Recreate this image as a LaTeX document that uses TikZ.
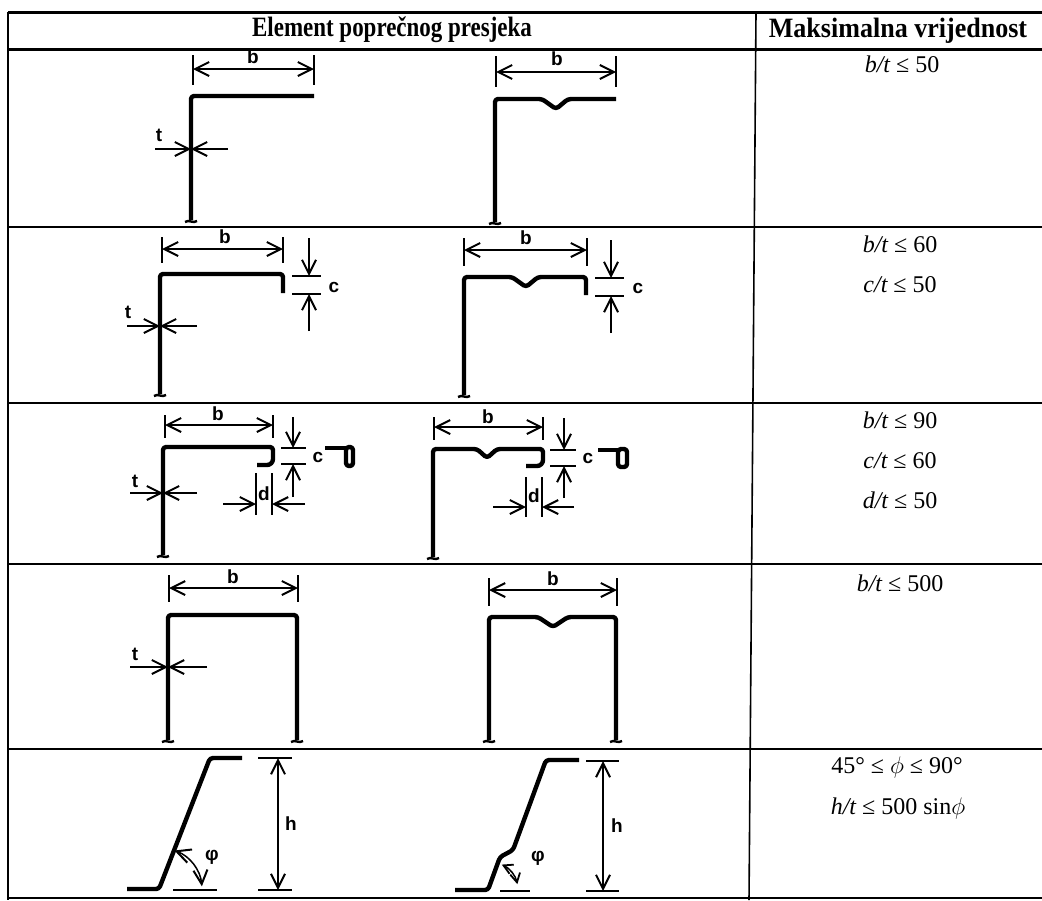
\documentclass[tikz,border=0pt]{standalone}
\usepackage{fontspec}
\setmainfont{Liberation Serif}
\newfontfamily\dimfont{Liberation Sans}
\usetikzlibrary{arrows.meta}
\newcommand{\footmark}[2]{\draw[footln,shift={(#1,#2)}] (-6,2) .. controls (-2,-1) and (2,4) .. (6,1);}
\begin{document}
\begin{tikzpicture}[x=0.5pt,y=-0.5pt,
  >={Straight Barb[length=7pt,width=7pt,line width=1pt]},
  smallbarb/.style={{Straight Barb[length=4.5pt,width=5pt,line width=0.9pt]}-{Straight Barb[length=4.5pt,width=5pt,line width=0.9pt]}},
  prof/.style={line width=2.2pt, rounded corners=1.5pt, line join=round},
  dimln/.style={line width=0.75pt},
  ext/.style={line width=0.75pt},
  tick/.style={line width=1.3pt},
  footln/.style={line width=1.2pt},
  lbl/.style={font=\dimfont\bfseries\fontsize{9.5}{11}\selectfont, inner sep=0pt, anchor=base},
  phil/.style={font=\dimfont\bfseries\fontsize{9.5}{11}\selectfont, inner sep=0pt},
  val/.style={font=\fontsize{12}{14}\selectfont, inner sep=0pt},
  head/.style={font=\bfseries\fontsize{14}{16}\selectfont, inner sep=0pt},
  tab/.style={line width=1pt},
  thick tab/.style={line width=1.5pt}
]
\useasboundingbox (0,0) rectangle (1042,900);
% ---------- table ----------
\draw[thick tab] (8,12) -- (1042,12);
\draw[thick tab] (8,49) -- (1042,49);
\draw[tab] (8,227) -- (1042,227);
\draw[tab] (8,403) -- (1042,403);
\draw[tab] (8,564) -- (1042,564);
\draw[tab] (8,749) -- (1042,749);
\draw[tab] (8,898) -- (1042,898);
\draw[line width=0.8pt] (8,12) -- (8,900);
\draw[line width=0.8pt] (756,12) -- (749,900);
\node[head] (h1) at (392,30) {\scalebox{0.82}[1]{Element poprečnog presjeka}};
\node[head] (h2) at (898,31) {\scalebox{0.93}[1]{Maksimalna vrijednost}};
% ---------- values ----------
\node[val] (v1) at (902,64) {\itshape b/t\upshape{} ≤ 50};
\node[val] (v2) at (900,244) {\itshape b/t\upshape{} ≤ 60};
\node[val] (v3) at (900,285) {\itshape c/t\upshape{} ≤ 50};
\node[val] (v4) at (900,420) {\itshape b/t\upshape{} ≤ 90};
\node[val] (v5) at (900,461) {\itshape c/t\upshape{} ≤ 60};
\node[val] (v6) at (900,500) {\itshape d/t\upshape{} ≤ 50};
\node[val] (v7) at (900,583) {\itshape b/t\upshape{} ≤ 500};
\node[val] (v8) at (897,767) {45° ≤ $\phi$ ≤ 90°};
\node[val] (v9) at (898,808) {\itshape h/t\upshape{} ≤ 500 sin$\phi$};
% ================= ROW 1 =================
% left
\draw[prof] (191,220) -- (191,96) -- (314,96);
\footmark{191}{220}
\draw[ext] (193,55) -- (193,85);
\draw[ext] (314,55) -- (314,85);
\draw[dimln,<->] (193,69) -- (314,69);
\node[lbl] (b1) at (253,63) {b};
\draw[dimln,->] (155,149) -- (191,149);
\draw[dimln,->] (228,149) -- (191,149);
\node[lbl] (t1) at (159,141) {t};
% right
\draw[prof] (495,222) -- (495,99) -- (542,99) -- (556,109) -- (568,99) -- (616,99);
\footmark{495}{222}
\draw[ext] (496,56) -- (496,87);
\draw[ext] (616,56) -- (616,87);
\draw[dimln,<->] (496,72) -- (616,72);
\node[lbl] (b2) at (557,65) {b};
% ================= ROW 2 =================
% left
\draw[prof] (160,394) -- (160,274) -- (283,274) -- (283,293);
\footmark{160}{394}
\draw[ext] (162,237) -- (162,263);
\draw[ext] (283,237) -- (283,263);
\draw[dimln,<->] (162,249) -- (283,249);
\node[lbl] (b3) at (225,243) {b};
\draw[tick] (292,276) -- (321,276);
\draw[tick] (292,294) -- (321,294);
\draw[dimln,->] (309,238) -- (309,276);
\draw[dimln,->] (309,331) -- (309,294);
\node[lbl] (c3) at (334,292) {c};
\draw[dimln,->] (127,326) -- (160,326);
\draw[dimln,->] (197,326) -- (160,326);
\node[lbl] (t3) at (128,318) {t};
% right
\draw[prof] (464,395) -- (464,277) -- (512,277) -- (526,287) -- (538,277) -- (586,277) -- (586,295);
\footmark{464}{395}
\draw[ext] (464,238) -- (464,266);
\draw[ext] (587,238) -- (587,266);
\draw[dimln,<->] (464,250) -- (587,250);
\node[lbl] (b4) at (526,244) {b};
\draw[tick] (595,278) -- (624,278);
\draw[tick] (595,296) -- (624,296);
\draw[dimln,->] (611,240) -- (611,278);
\draw[dimln,->] (611,333) -- (611,296);
\node[lbl] (c4) at (638,293) {c};
% ================= ROW 3 =================
% left
\draw[prof] (163,555) -- (163,447) -- (273,447) [rounded corners=3pt] -- (273,465) -- (257,465);
\footmark{163}{555}
\draw[ext] (165,415) -- (165,438);
\draw[ext] (273,415) -- (273,438);
\draw[dimln,<->] (165,425) -- (273,425);
\node[lbl] (b5) at (218,420) {b};
\draw[tick] (281,448) -- (306,448);
\draw[tick] (281,464) -- (306,464);
\draw[dimln,->] (293,417) -- (293,448);
\draw[dimln,->] (293,497) -- (293,464);
\node[lbl] (c5) at (318,462) {c};
\draw[prof] (325,448) -- (347,448);
\draw[prof,rounded corners=1.5pt] (346,447) rectangle (353,466);
\draw[ext] (256,473) -- (256,515);
\draw[ext] (272,473) -- (272,515);
\draw[dimln,->] (223,504) -- (256,504);
\draw[dimln,->] (305,504) -- (272,504);
\node[lbl] (d5) at (264,500) {d};
\draw[dimln,->] (130,493) -- (163,493);
\draw[dimln,->] (197,493) -- (163,493);
\node[lbl] (t5) at (135,487) {t};
% right
\draw[prof] (433,557) -- (433,449) -- (477,449) -- (487,458) -- (497,449) -- (543,449) [rounded corners=3pt] -- (543,466) -- (526,466);
\footmark{433}{557}
\draw[ext] (434,417) -- (434,440);
\draw[ext] (543,417) -- (543,440);
\draw[dimln,<->] (434,427) -- (543,427);
\node[lbl] (b6) at (488,423) {b};
\draw[tick] (550,450) -- (576,450);
\draw[tick] (550,466) -- (576,466);
\draw[dimln,->] (564,418) -- (564,450);
\draw[dimln,->] (564,498) -- (564,466);
\node[lbl] (c6) at (588,463) {c};
\draw[prof] (598,450) -- (619,450);
\draw[prof,rounded corners=1.5pt] (618,449) rectangle (627,467);
\draw[ext] (526,477) -- (526,517);
\draw[ext] (542,477) -- (542,517);
\draw[dimln,->] (493,507) -- (526,507);
\draw[dimln,->] (574,507) -- (542,507);
\node[lbl] (d6) at (534,502) {d};
% ================= ROW 4 =================
% left
\draw[prof] (168,740) -- (168,615) -- (297,615) -- (297,740);
\footmark{168}{740}
\footmark{297}{740}
\draw[ext] (169,575) -- (169,602);
\draw[ext] (298,575) -- (298,602);
\draw[dimln,<->] (169,588) -- (298,588);
\node[lbl] (b7) at (233,583) {b};
\draw[dimln,->] (130,667) -- (168,667);
\draw[dimln,->] (207,667) -- (168,667);
\node[lbl] (t7) at (135,660) {t};
% right
\draw[prof] (489,740) -- (489,617) -- (538,617) -- (553,627) -- (568,617) -- (616,617) -- (616,740);
\footmark{489}{740}
\footmark{616}{740}
\draw[ext] (489,578) -- (489,606);
\draw[ext] (617,578) -- (617,606);
\draw[dimln,<->] (489,590) -- (617,590);
\node[lbl] (b8) at (553,585) {b};
% ================= ROW 5 =================
% left
\draw[prof] (127,889) -- (159,889) -- (210,758) -- (242,758);
\draw[ext] (258,758) -- (292,758);
\draw[ext] (258,890) -- (292,890);
\draw[dimln,<->] (278,758) -- (278,890);
\node[lbl] (h9) at (291,830) {h};
\draw[ext] (173,890) -- (217,890);
\draw[dimln,<->] (174.4,850.5) arc[start angle=-70, end angle=-5, radius=42];
\node[phil] (p9) at (212,857) {φ};
% right
\draw[prof] (455,890) -- (488,890) -- (500,857) -- (513,850) -- (546,760) -- (579,760);
\draw[ext] (586,761) -- (619,761);
\draw[ext] (586,891) -- (619,891);
\draw[dimln,<->] (603,761) -- (603,891);
\node[lbl] (h10) at (617,832) {h};
\draw[ext] (500,891) -- (530,891);
\draw[dimln,smallbarb] (501.8,864.6) arc[start angle=-65, end angle=-12, radius=28];
\node[phil] (p10) at (538,858) {φ};
\end{tikzpicture}
\end{document}
